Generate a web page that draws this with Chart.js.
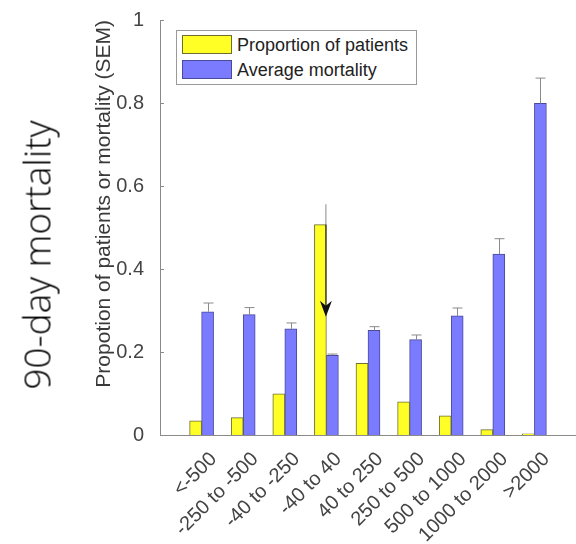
<!DOCTYPE html>
<html>
<head>
<meta charset="utf-8">
<script src="https://cdn.jsdelivr.net/npm/chart.js@4.4.1/dist/chart.umd.min.js"></script>
<style>
  html, body { margin: 0; padding: 0; background: #fff; }
  #wrap { position: relative; width: 576px; height: 544px; overflow: hidden; }
  #side {
    position: absolute; left: 36px; top: 255px;
    transform: translate(-50%, -50%) rotate(-90deg);
    white-space: nowrap; font: 300 37px 'Open Sans', sans-serif; color: #000;
  }
  #legend {
    position: absolute; left: 176px; top: 30px; width: 241px; height: 55px;
    box-sizing: border-box; border: 1px solid #9a9a9a; background: #fff;
    font: 18px 'Liberation Sans', Arial, sans-serif; color: #222;
  }
  .item { position: absolute; left: 5px; height: 20px; line-height: 20px; white-space: nowrap; }
  .sw { display: inline-block; width: 50px; height: 19px; box-sizing: border-box; vertical-align: top; margin-right: 5px; margin-top: 0; }
</style>
</head>
<body>
<div id="wrap">
  <canvas id="chart" width="576" height="544"></canvas>
  <div id="side">90-day mortality</div>
  <div id="legend"></div>
</div>
<script>
// data
const categories = ['<-500', '-250 to -500', '-40 to -250', '-40 to 40', '40 to 250',
  '250 to 500', '500 to 1000', '1000 to 2000', '>2000']
const patients = [0.034, 0.042, 0.099, 0.507, 0.173, 0.080, 0.046, 0.013, 0.003]
const patientsErr = [0, 0, 0, 0.049, 0, 0, 0, 0, 0]
const mortality = [0.297, 0.290, 0.256, 0.192, 0.252, 0.230, 0.287, 0.436, 0.799]
const mortalityErr = [0.021, 0.017, 0.014, 0.003, 0.009, 0.011, 0.019, 0.037, 0.061]
const yTicks = [0, 0.2, 0.4, 0.6, 0.8, 1]
const arrowIndex = 3
const arrowTo = 0.285

const FONT = "'Liberation Sans', Arial, sans-serif"

// one empty slot each side, like the matlab xlim [0 10]
const pad = (arr, fill) => [fill, ...arr, fill]

const errorBars = {
  id: 'errorBars',
  afterDatasetsDraw(chart) {
    const { ctx, scales } = chart
    const y = scales.y
    ctx.save()
    ctx.lineWidth = 1
    chart.data.datasets.forEach((ds, d) => {
      chart.getDatasetMeta(d).data.forEach((bar, i) => {
        const e = ds.errors[i]
        if (!e) return
        const v = ds.data[i]
        const x = d === 0 ? bar.x + bar.width / 2 - 0.5 : Math.round(bar.x) + 0.5
        const top = y.getPixelForValue(v + e)
        ctx.strokeStyle = '#8a8a8a'
        ctx.beginPath()
        ctx.moveTo(x, y.getPixelForValue(v))
        ctx.lineTo(x, top)
        if (d === 1) {
          ctx.moveTo(x - 5, top)
          ctx.lineTo(x + 5, top)
        }
        ctx.stroke()
      })
    })

    // arrow on the -40 to 40 bar
    const bar = chart.getDatasetMeta(0).data[arrowIndex + 1]
    const ax = bar.x + bar.width / 2 - 0.5
    const from = y.getPixelForValue(patients[arrowIndex])
    const tip = y.getPixelForValue(arrowTo)
    ctx.strokeStyle = '#111'
    ctx.beginPath()
    ctx.moveTo(ax, from)
    ctx.lineTo(ax, tip - 4)
    ctx.stroke()
    ctx.fillStyle = '#111'
    ctx.beginPath()
    ctx.moveTo(ax, tip)
    ctx.lineTo(ax - 6, tip - 16)
    ctx.lineTo(ax, tip - 11)
    ctx.lineTo(ax + 6, tip - 16)
    ctx.closePath()
    ctx.fill()
    ctx.restore()
  },
}

// matlab style: inward y ticks and 45 degree category labels hanging right of the bars
const axisDecor = {
  id: 'axisDecor',
  afterDraw(chart) {
    const { ctx, scales: { x, y } } = chart
    ctx.save()
    ctx.strokeStyle = '#8a8a8a'
    ctx.lineWidth = 1
    ctx.beginPath()
    yTicks.forEach((v) => {
      const py = Math.round(y.getPixelForValue(v)) + 0.5
      ctx.moveTo(x.left, py)
      ctx.lineTo(x.left + 4, py)
    })
    ctx.stroke()

    ctx.font = '20px ' + FONT
    ctx.fillStyle = '#444'
    ctx.textAlign = 'right'
    ctx.textBaseline = 'middle'
    categories.forEach((c, i) => {
      const px = x.getPixelForValue(i + 1)
      ctx.save()
      ctx.translate(px + 12, y.bottom + 21)
      ctx.rotate(-Math.PI / 4)
      ctx.fillText(c, 0, 0)
      ctx.restore()
    })
    ctx.restore()
  },
}

const chart = new Chart(document.getElementById('chart'), {
  type: 'bar',
  data: {
    labels: pad(categories, ''),
    datasets: [
      {
        label: 'Proportion of patients',
        data: pad(patients, null),
        errors: pad(patientsErr, 0),
        backgroundColor: '#ffff26',
        borderColor: '#6e6e30',
        borderWidth: 1,
        barThickness: 12,
      },
      {
        label: 'Average mortality',
        data: pad(mortality, null),
        errors: pad(mortalityErr, 0),
        backgroundColor: '#7b7bff',
        borderColor: '#4a4a9a',
        borderWidth: 1,
        barThickness: 12,
      },
    ],
  },
  options: {
    responsive: false,
    animation: false,
    layout: { padding: { top: 13, right: 0, left: 0, bottom: 0 } },
    plugins: { legend: { display: false }, tooltip: { enabled: false } },
    scales: {
      x: {
        offset: false,
        grid: { display: false },
        border: { color: '#8a8a8a' },
        ticks: { display: false },
        afterFit: (s) => {
          s.height = 109
          s.paddingLeft = 0
          s.paddingRight = 0
        },
      },
      y: {
        min: 0,
        max: 1,
        grid: { display: false },
        border: { color: '#8a8a8a' },
        afterBuildTicks: (s) => { s.ticks = yTicks.map((v) => ({ value: v })) },
        ticks: {
          padding: 8,
          color: '#444',
          font: { family: FONT, size: 20 },
          callback: (v) => String(v),
        },
        title: {
          display: true,
          align: 'end',
          text: 'Propotion of patients or mortality (SEM)',
          color: '#3a3a3a',
          padding: { top: 92, bottom: 0 },
          font: { family: FONT, size: 21 },
        },
        afterFit: (s) => { s.width = 160 },
      },
    },
  },
  plugins: [errorBars, axisDecor],
})

// legend box
const legend = document.getElementById('legend')
chart.data.datasets.forEach((ds, i) => {
  const row = document.createElement('div')
  row.className = 'item'
  row.style.top = (4 + i * 25) + 'px'
  row.innerHTML = '<span class="sw" style="background:' + ds.backgroundColor +
    ';border:1px solid ' + ds.borderColor + '"></span>'
  row.appendChild(document.createTextNode(ds.label))
  legend.appendChild(row)
})
</script>
</body>
</html>
